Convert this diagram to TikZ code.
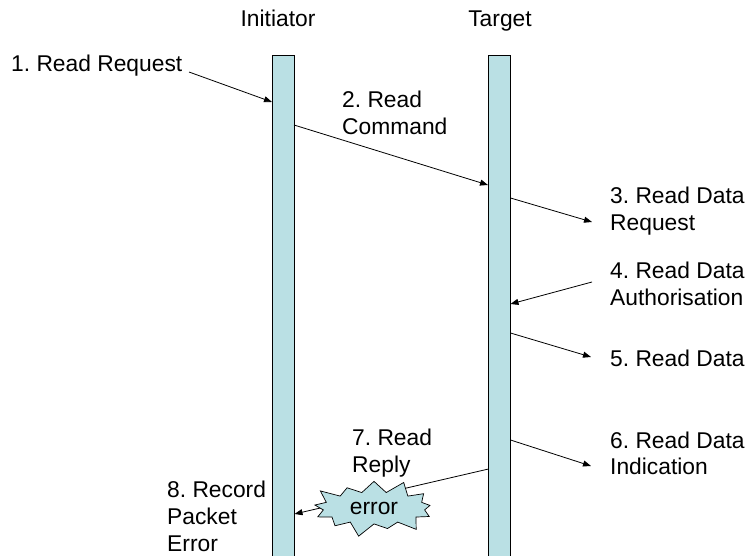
\documentclass[tikz,border=0pt]{standalone}
\usepackage{fontspec}
\setmainfont{Liberation Sans}
\usetikzlibrary{arrows.meta,shapes.symbols}
\definecolor{barfill}{RGB}{186,224,228}
\begin{document}
\frenchspacing
\begin{tikzpicture}[x=1pt,y=-1pt,
  lbl/.style={font=\fontsize{22.8}{27}\selectfont,inner sep=0pt,align=left},
  bar/.style={draw=black,fill=barfill,line width=0.7pt,inner sep=0pt},
  msg/.style={draw=black,line width=0.8pt,-{Triangle[length=8pt,width=6pt]}}]
\useasboundingbox (0,0) rectangle (748,556);
\clip (0,0) rectangle (748,556);
% lifelines
\node[bar,minimum width=22pt,minimum height=510pt,anchor=north] (init) at (283,55) {};
\node[bar,minimum width=22pt,minimum height=510pt,anchor=north] (targ) at (499.5,55) {};
\node[lbl,anchor=base] (hinit) at (278,27) {Initiator};
\node[lbl,anchor=base] (htarg) at (500,27) {Target};
% labels (anchored at the baseline of their last line)
\node[lbl,anchor=base west] (l1) at (11,72) {1. Read Request};
\node[lbl,anchor=base west] (l2) at (342,135) {2. Read\\Command};
\node[lbl,anchor=base west] (l3) at (610,231) {3. Read Data\\Request};
\node[lbl,anchor=base west] (l4) at (610,306) {4. Read Data\\Authorisation};
\node[lbl,anchor=base west] (l5) at (610,367) {5. Read Data};
\node[lbl,anchor=base west] (l6) at (610,475) {6. Read Data\\Indication};
\node[lbl,anchor=base west] (l7) at (352,472) {7. Read\\Reply};
\node[lbl,anchor=base west] (l8) at (167,551) {8. Record\\Packet\\Error};
% endpoints
\coordinate (a1s) at (189,72);
\coordinate (a1e) at (272,102);
\coordinate (a2s) at (294,125);
\coordinate (a2e) at (488,185);
\coordinate (a3s) at (510.5,198);
\coordinate (a3e) at (592,222);
\coordinate (a4s) at (592,282);
\coordinate (a4e) at (510.5,304);
\coordinate (a5s) at (510.5,333);
\coordinate (a5e) at (591,357);
\coordinate (a6s) at (510.5,440);
\coordinate (a6e) at (591,466);
\coordinate (a7s) at (488.5,469);
\coordinate (a7e) at (294.5,514);
% messages
\draw[msg] (a1s) -- (a1e);
\draw[msg] (a2s) -- (a2e);
\draw[msg] (a3s) -- (a3e);
\draw[msg] (a4s) -- (a4e);
\draw[msg] (a5s) -- (a5e);
\draw[msg] (a6s) -- (a6e);
\draw[msg] (a7s) -- (a7e);
% error burst
\node[starburst,draw=black,fill=barfill,line width=0.7pt,starburst points=13,
  starburst point height=15pt,inner xsep=12pt,inner ysep=5pt,
  font=\fontsize{22.8}{27}\selectfont] (err) at (374,508) {error};
\end{tikzpicture}
\end{document}
